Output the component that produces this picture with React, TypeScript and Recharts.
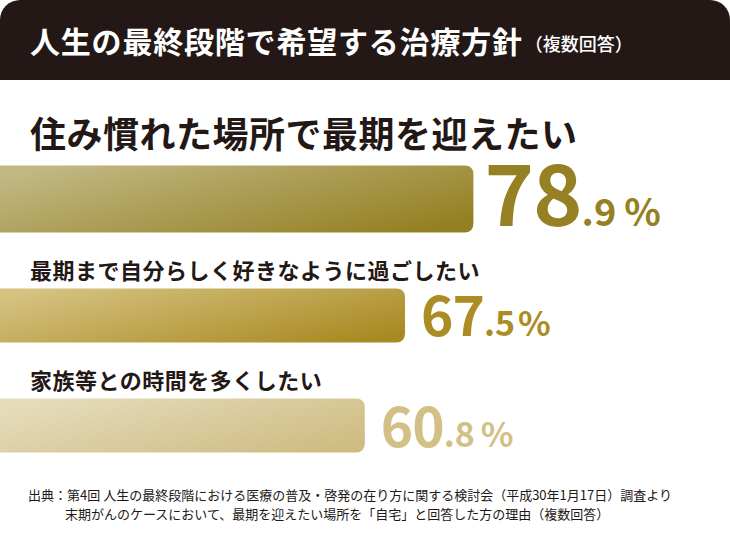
import React from 'react';
import { BarChart, Bar, XAxis, YAxis, LabelList } from 'recharts';

const categories = [
  '住み慣れた場所で最期を迎えたい',
  '最期まで自分らしく好きなように過ごしたい',
  '家族等との時間を多くしたい',
];
const values = [78.9, 67.5, 60.8];

const title = '人生の最終段階で希望する治療方針';
const titleNote = '（複数回答）';
const sourceLines = [
  '出典：第4回 人生の最終段階における医療の普及・啓発の在り方に関する検討会（平成30年1月17日）調査より',
  '末期がんのケースにおいて、最期を迎えたい場所を「自宅」と回答した方の理由（複数回答）',
];

const data = categories.map((name, i) => ({ name, value: values[i] }));

// per-row look
const rows = [
  { thick: 67, nudge: 0, from: '#c1b783', to: '#948022', text: '#958123', labelSize: 36, labelDy: -67, big: 84, small: 38, pctGap: 8, valDy: 27, gap: 11 },
  { thick: 54, nudge: 3.5, from: '#d5c281', to: '#a98a22', text: '#ac8d24', labelSize: 22, labelDy: -47, big: 55, small: 34, pctGap: 3, valDy: 20, gap: 16 },
  { thick: 54, nudge: 0.5, from: '#e5dcbc', to: '#cfbc82', text: '#d2c086', labelSize: 22, labelDy: -47, big: 55, small: 34, pctGap: 6, valDy: 21, gap: 16 },
];

const JP = '"Noto Sans CJK JP", "Noto Sans", sans-serif';
const DARK = '#231815';

const rowOf = (name: string) => Math.max(0, categories.indexOf(name));

const BarShape = (props: any) => {
  const { x, y, width, height, payload } = props;
  const i = rowOf(payload.name);
  const r = rows[i];
  const cy = y + height / 2 + r.nudge;
  const top = cy - r.thick / 2;
  const h = r.thick;
  const rad = 9;
  const d = `M${x},${top} H${x + width - rad} Q${x + width},${top} ${x + width},${top + rad} V${top + h - rad} Q${x + width},${top + h} ${x + width - rad},${top + h} H${x} Z`;
  return <path d={d} fill={`url(#barGrad${i})`} />;
};

const NameLabel = (props: any) => {
  const { y, height, value } = props;
  const i = rowOf(value);
  const r = rows[i];
  const cy = y + height / 2 + r.nudge;
  return (
    <text x={30} y={cy + r.labelDy} dominantBaseline="central" fontFamily={JP} fontWeight={700} fontSize={r.labelSize} letterSpacing={0.5} fill={DARK}>
      {value}
    </text>
  );
};

const ValueLabel = (props: any) => {
  const { x, y, width, height, value } = props;
  const i = Math.max(0, values.indexOf(value));
  const r = rows[i];
  const cy = y + height / 2 + r.nudge;
  const [whole, dec] = String(value).split('.');
  return (
    <text x={x + width + r.gap} y={cy + r.valDy} fontFamily={JP} fontWeight={700} fill={r.text}>
      <tspan fontSize={r.big} letterSpacing={-1}>{whole}</tspan>
      <tspan fontSize={r.small}>.{dec}</tspan>
      <tspan fontSize={r.small} dx={r.pctGap}>%</tspan>
    </text>
  );
};

export default function App() {
  return (
    <div style={{ position: 'absolute', left: 0, top: 0, width: 730, height: 541, background: '#fff', fontFamily: JP }}>
      <div
        style={{
          position: 'absolute', left: 0, top: 0, width: 730, height: 80,
          background: DARK, borderRadius: '20px 20px 0 0', color: '#fff',
          display: 'flex', alignItems: 'center', paddingLeft: 30, boxSizing: 'border-box',
        }}
      >
        <span style={{ fontSize: 30, fontWeight: 700, letterSpacing: 0.8 }}>{title}</span>
        <span style={{ fontSize: 18, fontWeight: 500, marginLeft: 2, marginTop: 6 }}>{titleNote}</span>
      </div>
      <BarChart
        width={730}
        height={541}
        data={data}
        layout="vertical"
        margin={{ top: 142, right: 130, bottom: 60, left: 0 }}
        style={{ position: 'absolute', left: 0, top: 0 }}
      >
        <defs>
          {rows.map((r, i) => (
            <linearGradient key={i} id={`barGrad${i}`} x1="0" y1="0.2" x2="1" y2="0.8">
              <stop offset="0%" stopColor={r.from} />
              <stop offset="100%" stopColor={r.to} />
            </linearGradient>
          ))}
        </defs>
        <XAxis type="number" domain={[0, 100]} hide />
        <YAxis type="category" dataKey="name" hide width={0} />
        <Bar dataKey="value" barSize={54} shape={BarShape} isAnimationActive={false}>
          <LabelList dataKey="name" content={NameLabel} />
          <LabelList dataKey="value" content={ValueLabel} />
        </Bar>
      </BarChart>
      <div style={{ position: 'absolute', left: 28, top: 486, fontSize: 13, lineHeight: '18px', color: DARK, whiteSpace: 'nowrap' }}>
        {sourceLines[0]}
      </div>
      <div style={{ position: 'absolute', left: 65, top: 505, fontSize: 13, lineHeight: '18px', color: DARK, whiteSpace: 'nowrap' }}>
        {sourceLines[1]}
      </div>
    </div>
  );
}
